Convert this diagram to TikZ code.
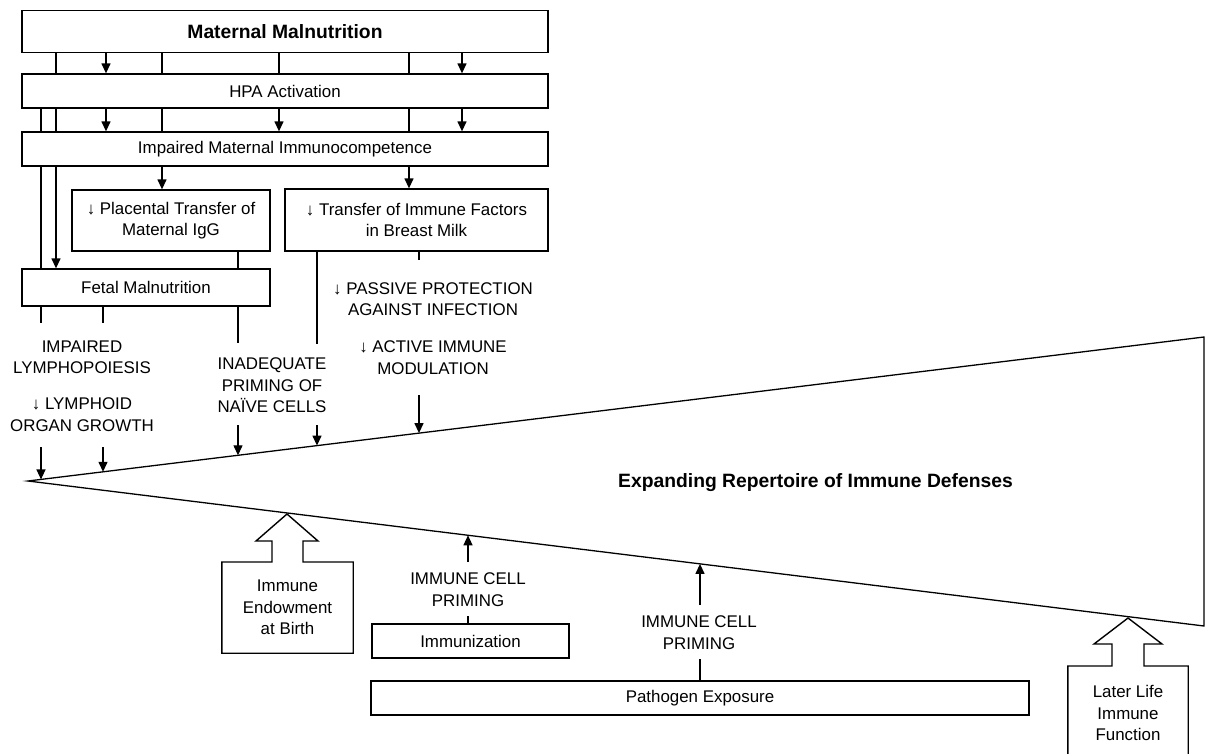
\documentclass[tikz,border=0pt]{standalone}
\usepackage{fontspec}
\setmainfont{Liberation Sans}
\usetikzlibrary{arrows.meta}

\tikzset{
  box/.style={draw, line width=1.3pt, inner sep=0pt, align=center,
    font=\fontsize{16.9}{21.5}\selectfont},
  lbl/.style={inner sep=0pt, align=center, font=\fontsize{16.9}{21.5}\selectfont},
  title/.style={inner sep=0pt, font=\fontsize{19.3}{22}\selectfont\bfseries},
  link/.style={line width=1.3pt},
  arr/.style={line width=1.3pt, -{Triangle[length=10pt,width=9pt]}},
  outline/.style={line width=1.4pt},
}

\begin{document}
\begin{tikzpicture}[x=1pt,y=-1pt]
  \useasboundingbox (0,0) rectangle (1211,753);
  % columns
  \coordinate (xa) at (41,0);
  \coordinate (xb) at (56,0);
  \coordinate (xc) at (106,0);
  \coordinate (xd) at (162,0);
  \coordinate (xe) at (279,0);
  \coordinate (xf) at (409,0);
  \coordinate (xg) at (462,0);
  \coordinate (xh) at (238,0);
  \coordinate (xi) at (317,0);
  \coordinate (xj) at (419,0);
  \coordinate (xk) at (103,0);
  \coordinate (xm) at (468,0);

  \node[box, minimum width=526, minimum height=42] (mm) at (285,31.5) {\bfseries\fontsize{19.3}{22}\selectfont Maternal Malnutrition};
  \node[box, minimum width=526, minimum height=34] (hpa) at (285,91) {HPA Activation};
  \node[box, minimum width=526, minimum height=34] (imc) at (285,149) {Impaired Maternal Immunocompetence};
  \node[box, minimum width=198, minimum height=61] (plac) at (171,220.5) {↓ Placental Transfer of\\Maternal IgG};
  \node[box, minimum width=263, minimum height=62] (milk) at (416.5,220) {↓ Transfer of Immune Factors\\in Breast Milk};
  \node[box, minimum width=248, minimum height=37] (fetal) at (146,287.5) {Fetal Malnutrition};

  \draw [link] (mm.south -| xb) -- (hpa.north -| xb);
  \draw [arr] (mm.south -| xc) -- (hpa.north -| xc);
  \draw [link] (mm.south -| xd) -- (hpa.north -| xd);
  \draw [link] (mm.south -| xe) -- (hpa.north -| xe);
  \draw [link] (mm.south -| xf) -- (hpa.north -| xf);
  \draw [arr] (mm.south -| xg) -- (hpa.north -| xg);

  \draw [link] (hpa.south -| xa) -- (imc.north -| xa);
  \draw [link] (hpa.south -| xb) -- (imc.north -| xb);
  \draw [arr] (hpa.south -| xc) -- (imc.north -| xc);
  \draw [link] (hpa.south -| xd) -- (imc.north -| xd);
  \draw [arr] (hpa.south -| xe) -- (imc.north -| xe);
  \draw [link] (hpa.south -| xf) -- (imc.north -| xf);
  \draw [arr] (hpa.south -| xg) -- (imc.north -| xg);

  \draw [link] (imc.south -| xa) -- (fetal.north -| xa);
  \draw [arr] (imc.south -| xb) -- (fetal.north -| xb);
  \draw [arr] (imc.south -| xd) -- (plac.north -| xd);
  \draw [arr] (imc.south -| xf) -- (milk.north -| xf);
  \draw [link] (plac.south -| xh) -- (fetal.north -| xh);

  % ends of the open lines
  \coordinate (e1) at (41,323);
  \coordinate (e2) at (103,323);
  \coordinate (e3) at (238,343);
  \coordinate (e4) at (317,344);
  \coordinate (e5) at (419,260);
  \draw [link] (fetal.south -| xa) -- (e1);
  \draw [link] (fetal.south -| xk) -- (e2);
  \draw [link] (fetal.south -| xh) -- (e3);
  \draw [link] (milk.south -| xi) -- (e4);
  \draw [link] (milk.south -| xj) -- (e5);

  \node[lbl] (imp) at (82,357.5) {IMPAIRED\\LYMPHOPOIESIS};
  \node[lbl] (lym) at (82,414.5) {↓ LYMPHOID\\ORGAN GROWTH};
  \node[lbl] (ina) at (272,385.5) {INADEQUATE\\PRIMING OF\\NAÏVE CELLS};
  \node[lbl] (pas) at (433,299) {↓ PASSIVE PROTECTION\\AGAINST INFECTION};
  \node[lbl] (act) at (433,357.5) {↓ ACTIVE IMMUNE\\MODULATION};

  % cone
  \coordinate (tip) at (28,481);
  \coordinate (ur) at (1204,337);
  \coordinate (lr) at (1204,626);
  \draw [link] (tip) -- (ur) -- (lr) -- cycle;
  \node[title] (rep) at (815.5,483) {Expanding Repertoire of Immune Defenses};

  \coordinate (a1) at (41,447);
  \coordinate (a2) at (103,447);
  \coordinate (a3) at (238,425);
  \coordinate (a4) at (317,425);
  \coordinate (a5) at (419,395);
  \coordinate (u1) at (41,479.4);
  \coordinate (u2) at (103,471.8);
  \coordinate (u3) at (238,455.3);
  \coordinate (u4) at (317,445.6);
  \coordinate (u5) at (419,433.1);
  \draw [arr] (a1) -- (u1);
  \draw [arr] (a2) -- (u2);
  \draw [arr] (a3) -- (u3);
  \draw [arr] (a4) -- (u4);
  \draw [arr] (a5) -- (u5);

  % below the cone
  \node[box, minimum width=197, minimum height=34] (immz) at (470.5,641) {Immunization};
  \node[box, minimum width=658, minimum height=34] (path) at (700,698) {Pathogen Exposure};
  \node[lbl] (icp1) at (468,589.5) {IMMUNE CELL\\PRIMING};
  \node[lbl] (icp2) at (699,632.5) {IMMUNE CELL\\PRIMING};
  \coordinate (b1) at (468,562);
  \coordinate (b2) at (700,605);
  \coordinate (l1) at (468,535.3);
  \coordinate (l2) at (700,563.9);
  \coordinate (t1) at (468,616);
  \coordinate (t2) at (700,659);
  \draw [link] (immz.north -| xm) -- (t1);
  \draw [link] (path.north) -- (t2);
  \draw [arr] (b1) -- (l1);
  \draw [arr] (b2) -- (l2);

  \node[lbl, minimum width=131, minimum height=91] (endow) at (287.5,607.5) {Immune\\Endowment\\at Birth};
  \draw [outline] (endow.south west) |- (272,562) -- (272,541) -- (256,541) -- (287,514)
    -- (318,541) -- (303,541) -- (303,562) -| (endow.south east) -- cycle;

  \node[lbl, minimum width=120, minimum height=94] (later) at (1128,713) {Later Life\\Immune\\Function};
  \draw [outline] (later.south west) |- (1112,666) -- (1112,644) -- (1094,644) -- (1128,618)
    -- (1162,644) -- (1144,644) -- (1144,666) -| (later.south east);
\end{tikzpicture}
\end{document}
